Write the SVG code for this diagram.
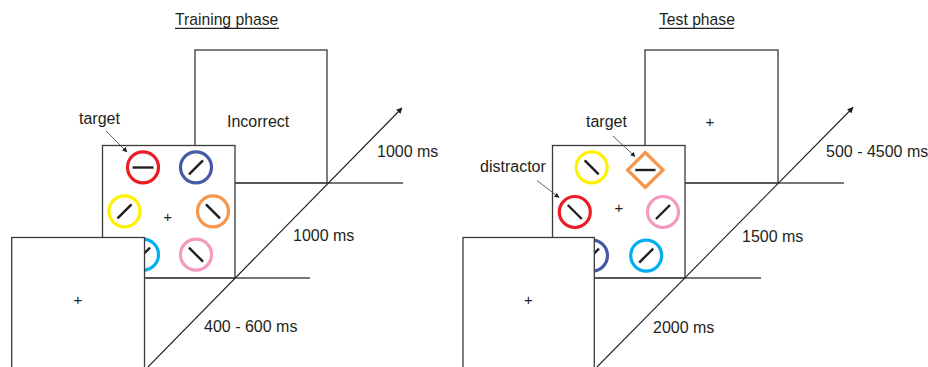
<svg xmlns="http://www.w3.org/2000/svg" width="928" height="367" viewBox="0 0 928 367">
  <defs>
    <style>
      text { font-family: "Liberation Sans", Arial, sans-serif; fill: #231f20; }
      .lbl { font-size: 16px; }
      .ttl { font-size: 15.7px; }
      .plus { font-size: 15px; text-anchor: middle; }
      .screen { fill: #ffffff; stroke: #3a3a3a; stroke-width: 1.3; }
      .edge { fill: none; stroke: #4a4a4a; stroke-width: 1.3; }
      .time { fill: none; stroke: #231f20; stroke-width: 1.1; }
      .ptr { fill: none; stroke: #3a3a3a; stroke-width: 0.8; }
      .ring { fill: none; stroke-width: 3.2; }
      .bar { stroke: #231f20; stroke-width: 2.4; stroke-linecap: butt; }
    </style>
    <marker id="tip" viewBox="0 0 10 10" refX="9" refY="5" markerWidth="6" markerHeight="6" markerUnits="userSpaceOnUse" orient="auto">
      <path d="M0,0 L10,5 L0,10 z" fill="#231f20"/>
    </marker>
    <marker id="tipSmall" viewBox="0 0 10 10" refX="9" refY="5" markerWidth="5" markerHeight="5" markerUnits="userSpaceOnUse" orient="auto">
      <path d="M0,0 L10,5 L0,10 z" fill="#231f20"/>
    </marker>
  </defs>

  <!-- ================= Training phase ================= -->
  <g id="training-title">
    <text class="ttl" x="175" y="25">Training phase</text>
    <line x1="175" y1="28.3" x2="279" y2="28.3" stroke="#231f20" stroke-width="1.3"/>
  </g>

  <g id="training-feedback">
    <rect class="screen" x="195" y="50" width="132" height="133"/>
    <text class="lbl" x="227" y="127">Incorrect</text>
  </g>

  <g id="training-search">
    <rect class="screen" x="102.5" y="145.5" width="132.5" height="132.5"/>
    <!-- coloured rings with oriented bars -->
    <circle class="ring" cx="143" cy="167.3" r="15.5" stroke="#ed1c24"/>
    <line class="bar" x1="132.5" y1="167.5" x2="153.5" y2="167.5"/>
    <circle class="ring" cx="196" cy="167.3" r="15.5" stroke="#4659a7"/>
    <line class="bar" x1="189" y1="174.3" x2="203" y2="160.3"/>
    <circle class="ring" cx="124.5" cy="211.3" r="15.5" stroke="#fff200"/>
    <line class="bar" x1="117.5" y1="218.3" x2="131.5" y2="204.3"/>
    <circle class="ring" cx="213" cy="211.3" r="15.5" stroke="#f7964a"/>
    <line class="bar" x1="206" y1="204.3" x2="220" y2="218.3"/>
    <circle class="ring" cx="143" cy="254.7" r="15.5" stroke="#00aeef"/>
    <line class="bar" x1="136" y1="261.7" x2="150" y2="247.7"/>
    <circle class="ring" cx="196" cy="254.7" r="15.5" stroke="#f49ac1"/>
    <line class="bar" x1="189" y1="247.7" x2="203" y2="261.7"/>
    <text class="plus" x="167.7" y="221.8">+</text>
    <text class="lbl" x="79" y="123.5">target</text>
    <line class="ptr" x1="106" y1="131" x2="127" y2="152" marker-end="url(#tipSmall)"/>
  </g>

  <g id="training-fixation">
    <rect class="screen" x="11.7" y="237.5" width="132.8" height="140"/>
    <text class="plus" x="78" y="305">+</text>
  </g>

  <g id="training-connectors">
    <line class="edge" x1="235" y1="183" x2="403" y2="183"/>
    <line class="edge" x1="144.5" y1="278" x2="310" y2="278"/>
    <line class="time" x1="148" y1="367" x2="402" y2="108" marker-end="url(#tip)"/>
    <text class="lbl" x="377" y="157">1000 ms</text>
    <text class="lbl" x="293" y="241.3">1000 ms</text>
    <text class="lbl" x="204" y="332">400 - 600 ms</text>
  </g>

  <!-- ================= Test phase ================= -->
  <g id="test-title">
    <text class="ttl" x="659" y="25">Test phase</text>
    <line x1="659" y1="28.3" x2="734" y2="28.3" stroke="#231f20" stroke-width="1.3"/>
  </g>

  <g id="test-iti">
    <rect class="screen" x="645" y="50" width="133" height="133"/>
    <text class="plus" x="710" y="127.2">+</text>
  </g>

  <g id="test-search">
    <rect class="screen" x="552.5" y="145.5" width="132.5" height="132.5"/>
    <circle class="ring" cx="591.7" cy="167.3" r="15.5" stroke="#fff200"/>
    <line class="bar" x1="584.7" y1="160.3" x2="598.7" y2="174.3"/>
    <polygon class="ring" points="645.3,152.5 663,170 645.3,187.5 627.6,170" stroke="#f7964a" stroke-linejoin="miter"/>
    <line class="bar" x1="635.3" y1="170" x2="655.5" y2="170"/>
    <circle class="ring" cx="574.8" cy="212" r="15.5" stroke="#ed1c24"/>
    <line class="bar" x1="567.8" y1="205" x2="581.8" y2="219"/>
    <circle class="ring" cx="663" cy="212" r="15.5" stroke="#f49ac1"/>
    <line class="bar" x1="656" y1="219" x2="670" y2="205"/>
    <circle class="ring" cx="592" cy="255.6" r="15.5" stroke="#4659a7"/>
    <line class="bar" x1="585" y1="262.6" x2="599" y2="248.6"/>
    <circle class="ring" cx="646.2" cy="255.6" r="15.5" stroke="#00aeef"/>
    <line class="bar" x1="639.2" y1="262.6" x2="653.2" y2="248.6"/>
    <text class="plus" x="619" y="212.5">+</text>
    <text class="lbl" x="586" y="127">target</text>
    <line class="ptr" x1="613" y1="136" x2="635" y2="156.5" marker-end="url(#tipSmall)"/>
    <text class="lbl" x="480" y="172">distractor</text>
    <line class="ptr" x1="537" y1="180.5" x2="559" y2="197.5" marker-end="url(#tipSmall)"/>
  </g>

  <g id="test-fixation">
    <rect class="screen" x="463" y="237.5" width="131.3" height="140"/>
    <text class="plus" x="528.3" y="305">+</text>
  </g>

  <g id="test-connectors">
    <line class="edge" x1="685" y1="183" x2="844" y2="183"/>
    <line class="edge" x1="594.3" y1="278" x2="761" y2="278"/>
    <line class="time" x1="597" y1="367" x2="853" y2="107.5" marker-end="url(#tip)"/>
    <text class="lbl" x="826" y="157">500 - 4500 ms</text>
    <text class="lbl" x="742" y="242.3">1500 ms</text>
    <text class="lbl" x="653" y="333">2000 ms</text>
  </g>
</svg>
